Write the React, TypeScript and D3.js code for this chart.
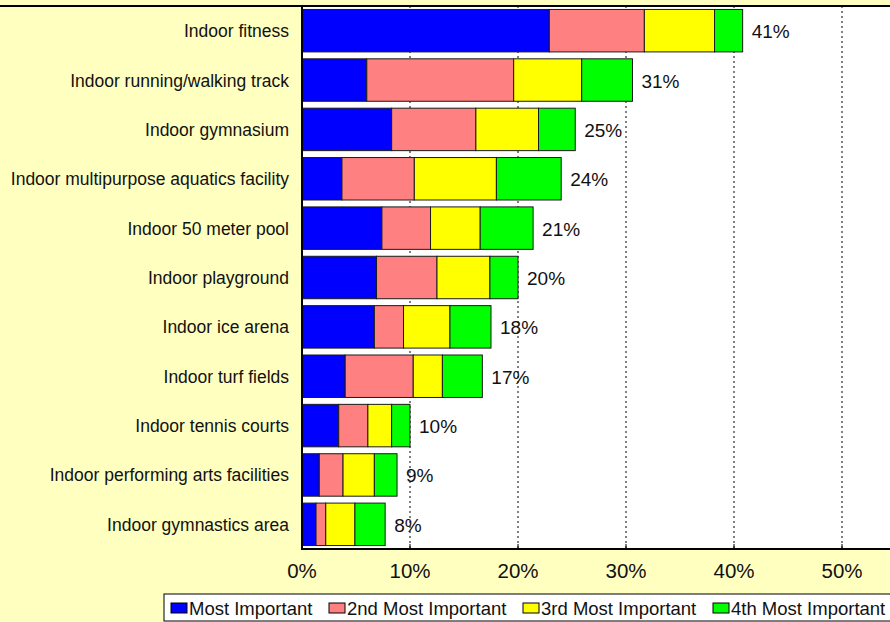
import React from "react";
import * as d3 from "d3";

const categories = [
  "Indoor fitness",
  "Indoor running/walking track",
  "Indoor gymnasium",
  "Indoor multipurpose aquatics facility",
  "Indoor 50 meter pool",
  "Indoor playground",
  "Indoor ice arena",
  "Indoor turf fields",
  "Indoor tennis courts",
  "Indoor performing arts facilities",
  "Indoor gymnastics area",
];

const mostImportant = [22.9, 6.0, 8.3, 3.7, 7.4, 6.9, 6.7, 4.0, 3.4, 1.6, 1.3];
const secondImportant = [8.8, 13.6, 7.8, 6.7, 4.5, 5.6, 2.7, 6.3, 2.7, 2.2, 0.9];
const thirdImportant = [6.5, 6.3, 5.8, 7.6, 4.6, 4.9, 4.3, 2.7, 2.2, 2.9, 2.7];
const fourthImportant = [2.6, 4.7, 3.4, 6.0, 4.9, 2.6, 3.8, 3.7, 1.7, 2.1, 2.8];
const totalLabels = ["41%", "31%", "25%", "24%", "21%", "20%", "18%", "17%", "10%", "9%", "8%"];

const seriesNames = ["Most Important", "2nd Most Important", "3rd Most Important", "4th Most Important"];
const seriesColors = ["#0000FF", "#FF8080", "#FFFF00", "#00FF00"];
const tickValues = [0, 10, 20, 30, 40, 50, 60];
const tickLabelValues = [0, 10, 20, 30, 40, 50];

const W = 890;
const H = 622;
const FONT = "Arial, 'Liberation Sans', sans-serif";

export default function App() {
  const x = d3.scaleLinear().domain([0, 60]).range([302, 950]);
  const y = d3
    .scaleBand<string>()
    .domain(categories)
    .range([6, 549])
    .paddingInner(0.14)
    .paddingOuter(0.07);

  const rows = categories.map((c, i) => ({
    cat: c,
    v0: mostImportant[i],
    v1: secondImportant[i],
    v2: thirdImportant[i],
    v3: fourthImportant[i],
  }));
  const stack = d3.stack<any>().keys(["v0", "v1", "v2", "v3"]);
  const series = stack(rows);

  const legendX = [171, 329, 523, 713];

  return (
    <div style={{ position: "absolute", left: 0, top: 0 }}>
      <svg width={W} height={H} style={{ display: "block" }}>
        <rect x={0} y={0} width={W} height={H} fill="#FFFFC0" />
        {/* plot area */}
        <rect x={x(0)} y={6} width={x(60) - x(0)} height={549 - 6} fill="#FFFFFF" />
        {/* gridlines */}
        {tickValues.slice(1).map((t) => (
          <line
            key={"g" + t}
            x1={x(t)}
            x2={x(t)}
            y1={6}
            y2={549}
            stroke="#000"
            strokeWidth={1}
            strokeDasharray="2,3"
          />
        ))}
        {/* bars */}
        {series.map((s, si) =>
          s.map((d, i) => (
            <rect
              key={si + "-" + i}
              x={x(d[0])}
              y={y(categories[i])}
              width={x(d[1]) - x(d[0])}
              height={y.bandwidth()}
              fill={seriesColors[si]}
              stroke="#1a1a1a"
              strokeWidth={1}
            />
          ))
        )}
        {/* value labels */}
        {categories.map((c, i) => (
          <text
            key={"v" + i}
            x={x(series[3][i][1]) + 9}
            y={(y(c) as number) + y.bandwidth() / 2 + 7.5}
            fontFamily={FONT}
            fontSize={19}
            fill="#111"
          >
            {totalLabels[i]}
          </text>
        ))}
        {/* axes */}
        <line x1={0} x2={W} y1={6} y2={6} stroke="#000" strokeWidth={2} />
        <line x1={x(0)} x2={x(0)} y1={5} y2={550} stroke="#000" strokeWidth={2} />
        <line x1={x(0) - 1} x2={W} y1={549} y2={549} stroke="#000" strokeWidth={2} />
        {tickValues.map((t) => (
          <line key={"t" + t} x1={x(t)} x2={x(t)} y1={549} y2={544} stroke="#000" strokeWidth={1} />
        ))}
        {/* category labels */}
        {categories.map((c) => (
          <text
            key={c}
            x={289}
            y={(y(c) as number) + y.bandwidth() / 2 + 6.5}
            textAnchor="end"
            fontFamily={FONT}
            fontSize={17.5}
            fill="#111"
          >
            {c}
          </text>
        ))}
        {/* tick labels */}
        {tickLabelValues.map((t) => (
          <text
            key={"tl" + t}
            x={x(t)}
            y={578}
            textAnchor="middle"
            fontFamily={FONT}
            fontSize={20.5}
            fill="#111"
          >
            {t + "%"}
          </text>
        ))}
        {/* legend */}
        <rect x={164} y={594} width={760} height={27} fill="#FFFFFF" stroke="#000" strokeWidth={1} />
        {seriesNames.map((n, i) => (
          <g key={n}>
            <rect
              x={legendX[i]}
              y={603}
              width={16}
              height={10}
              fill={seriesColors[i]}
              stroke="#000"
              strokeWidth={1}
            />
            <text x={legendX[i] + 18} y={614.5} fontFamily={FONT} fontSize={18.5} fill="#111">
              {n}
            </text>
          </g>
        ))}
      </svg>
    </div>
  );
}
